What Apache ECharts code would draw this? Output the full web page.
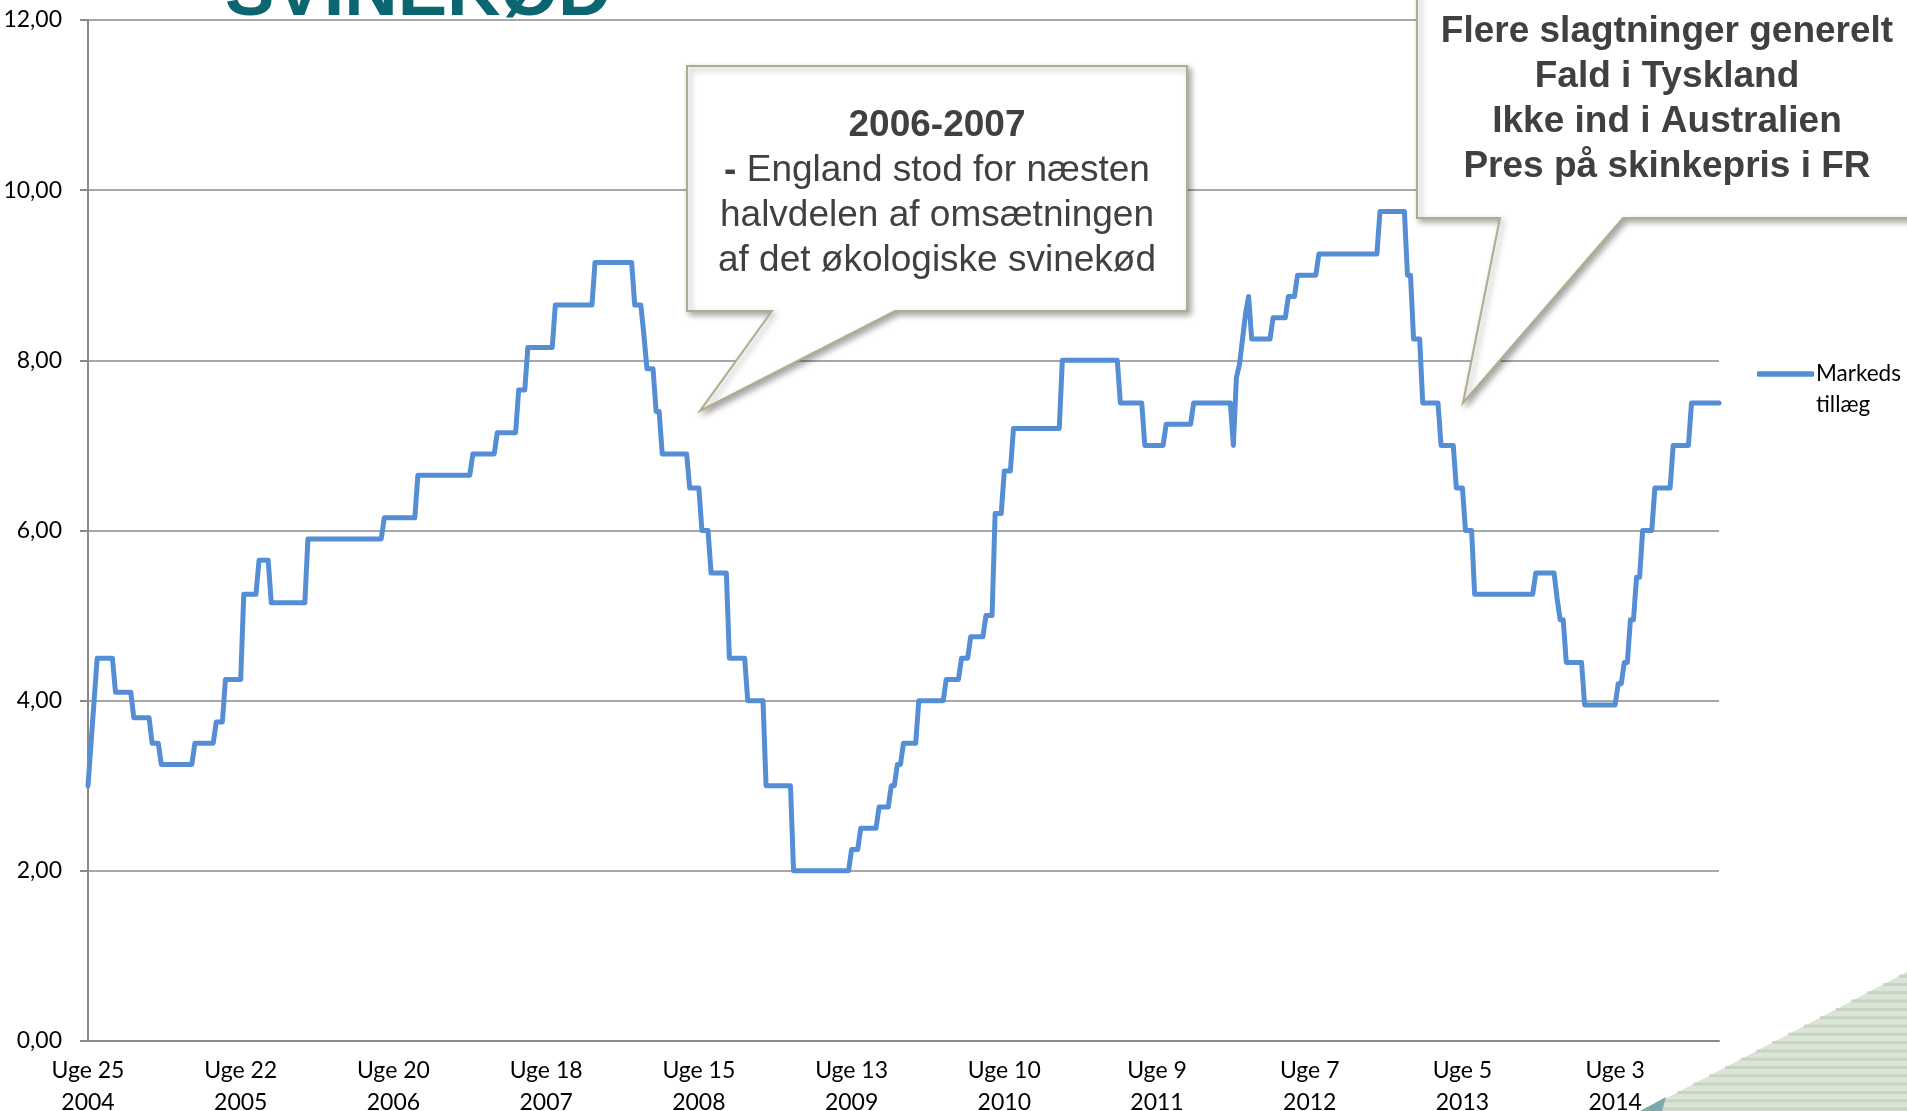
<!DOCTYPE html>
<html><head><meta charset="utf-8">
<script src="https://cdn.jsdelivr.net/npm/echarts/dist/echarts.min.js"></script>
<style>html,body{margin:0;padding:0;background:#fff;overflow:hidden}#c{width:1907px;height:1111px}</style>
</head><body><div id="c"></div><script>
// ---- data ----
const xTickLabels = ['Uge 25\n2004','Uge 22\n2005','Uge 20\n2006','Uge 18\n2007','Uge 15\n2008','Uge 13\n2009','Uge 10\n2010','Uge 9\n2011','Uge 7\n2012','Uge 5\n2013','Uge 3\n2014'];
const weeksPerLabel = 50;
const yTickLabels = ['0,00','2,00','4,00','6,00','8,00','10,00','12,00'];
const seriesName = 'Markeds\ntillæg';
// weekly level of the market premium, as runs: value and number of weeks held
const levels = [3.0,3.5,4.0,4.5,4.1,3.8,3.5,3.25,3.5,3.75,4.25,5.25,5.65,5.15,5.9,6.15,6.65,6.9,7.15,7.65,8.15,8.65,9.15,8.65,8.3,7.9,7.4,6.9,6.5,6.0,5.5,4.5,4.0,3.0,2.0,2.25,2.5,2.75,3.0,3.25,3.5,4.0,4.25,4.5,4.75,5.0,6.2,6.7,7.2,8.0,7.5,7.0,7.25,7.5,7.0,7.8,7.95,8.25,8.55,8.75,8.25,8.5,8.75,9.0,9.25,9.75,9.0,8.25,7.5,7.0,6.5,6.0,5.25,5.5,5.2,4.95,4.45,3.95,4.2,4.45,4.95,5.45,6.0,6.5,7.0,7.5];
const weeks = [1,1,1,6,6,6,3,11,7,3,6,5,4,12,25,11,18,8,7,3,9,13,13,3,1,3,2,9,4,3,6,6,6,9,19,3,6,4,2,2,5,9,5,3,5,3,3,3,16,19,8,7,9,13,1,1,1,1,1,1,7,5,3,7,20,9,2,3,6,5,3,3,20,7,1,2,6,11,2,2,2,2,4,6,6,10];
const callout1Lines = ['2006-2007','- England stod for næsten','halvdelen af omsætningen','af det økologiske svinekød'];
const callout2Lines = ['Flere slagtninger generelt','Fald i Tyskland','Ikke ind i Australien','Pres på skinkepris i FR'];
const titleText = 'SVINEKØD';

// ---- build series data from the runs ----
const data = [];
let w = 0;
levels.forEach((v, i) => { for (let k = 0; k < weeks[i]; k++) { data.push([w, v]); w++; } });

const chart = echarts.init(document.getElementById('c'), null, {renderer: 'canvas'});
const labelFont = 'Lato, "Open Sans", sans-serif';
const calloutFont = '"Liberation Sans", Arial, sans-serif';

const graphics = [];
// decorative striped corner (bottom right)
const triA = [1642, 1111], triB = [1907, 972];
graphics.push({type:'polygon', z:1, silent:true, shape:{points:[triA, triB, [1907,1111]]}, style:{fill:'#dbe5d7'}});
for (let y = 1109; y > triB[1] + 1; y -= 8.3) {
  const xl = triA[0] + (1111 - y) * (triB[0]-triA[0])/(triA[1]-triB[1]);
  graphics.push({type:'line', z:2, silent:true, shape:{x1:xl, y1:y, x2:1907, y2:y}, style:{stroke:'#c6d5c0', lineWidth:3}});
}
graphics.push({type:'polygon', z:3, silent:true, shape:{points:[[1640,1111],[1666,1097],[1662,1111]]}, style:{fill:'#7fa7ad'}});

// title fragment
graphics.push({type:'text', z:50, x:225, y:-5, style:{text:titleText, font:'bold 74px "Liberation Sans", Arial, sans-serif', fill:'#0c6672', textAlign:'left', verticalAlign:'middle', textVerticalAlign:'middle'}});

const calloutStyle = {fill:'#ffffff', stroke:'#b3ab8d', lineWidth:2, shadowBlur:6, shadowOffsetX:3, shadowOffsetY:3, shadowColor:'rgba(0,0,0,0.35)'};
// callout 1
graphics.push({type:'polygon', z:60, silent:true, shape:{points:[[687,66],[1187,66],[1187,311],[895,311],[700,411],[772,311],[687,311]]}, style:calloutStyle});
const c1y = [126, 171, 216, 261];
callout1Lines.forEach((t, i) => {
  let txt = t;
  if (i === 0) txt = '{b|' + t + '}';
  if (i === 1) txt = '{b|-}' + t.slice(1);
  graphics.push({type:'text', z:61, x:937, y:c1y[i], style:{text:txt, font:'37px ' + calloutFont, fill:'#404040', textAlign:'center', align:'center', verticalAlign:'middle', textVerticalAlign:'middle', rich:{b:{fontWeight:'bold', fontSize:37, fontFamily:'"Liberation Sans", Arial, sans-serif', fill:'#404040'}}}});
});
// callout 2
graphics.push({type:'polygon', z:60, silent:true, shape:{points:[[1417,-20],[1940,-20],[1940,218],[1623,218],[1463,403],[1500,218],[1417,218]]}, style:calloutStyle});
const c2y = [32, 77, 122, 167];
callout2Lines.forEach((t, i) => {
  graphics.push({type:'text', z:61, x:1667, y:c2y[i], style:{text:t, font:'bold 37px ' + calloutFont, fill:'#404040', textAlign:'center', align:'center', verticalAlign:'middle', textVerticalAlign:'middle'}});
});

const option = {
  animation: false,
  backgroundColor: '#ffffff',
  grid: {left: 88, right: 188, top: 20, bottom: 70, containLabel: false, outerBoundsMode: 'none'},
  legend: {
    show: true, left: 1757, top: 327.5, padding: 0, orient: 'vertical',
    icon: 'roundRect', itemWidth: 57, itemHeight: 5.5,
    data: [seriesName],
    formatter: name => '\n' + name,
    textStyle: {fontFamily: labelFont, fontSize: 22.5, color: '#000', lineHeight: 31, padding: [0, 0, 0, -3]},
    selectedMode: false
  },
  xAxis: {
    type: 'value', min: 0, max: data.length - 1, interval: weeksPerLabel,
    axisLine: {show: true, onZero: false, lineStyle: {color: '#8a8a8a', width: 2}},
    axisTick: {show: false},
    splitLine: {show: false},
    axisLabel: {
      show: true, margin: 14, color: '#000', fontFamily: labelFont, fontSize: 23, lineHeight: 32,
      showMinLabel: true, showMaxLabel: true, hideOverlap: false,
      formatter: v => (v % weeksPerLabel === 0 && xTickLabels[v / weeksPerLabel]) || ''
    }
  },
  yAxis: {
    type: 'value', min: 0, max: 12, interval: 2,
    axisLine: {show: true, lineStyle: {color: '#8a8a8a', width: 2}},
    axisTick: {show: true, length: 8, lineStyle: {color: '#8a8a8a', width: 2}},
    splitLine: {show: true, lineStyle: {color: '#8a8a8a', width: 1.5}},
    axisLabel: {margin: 26, color: '#000', fontFamily: labelFont, fontSize: 23,
      formatter: v => yTickLabels[Math.round(v / 2)]}
  },
  series: [{
    name: seriesName, type: 'line', data: data, showSymbol: false, symbol: 'none',
    color: '#558ED5',
    itemStyle: {color: '#558ED5'},
    lineStyle: {color: '#558ED5', width: 5, join: 'round', cap: 'round'},
    z: 5
  }],
  graphic: {elements: graphics}
};
chart.setOption(option);
</script></body></html>
